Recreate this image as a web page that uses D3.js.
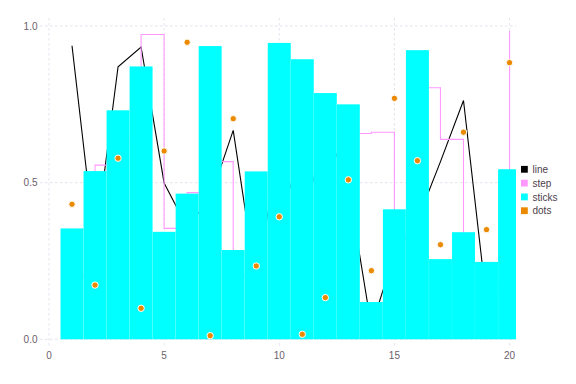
<!DOCTYPE html>
<html>
<head>
<meta charset="utf-8">
<script src="https://cdn.jsdelivr.net/npm/d3@7"></script>
<style>
  html, body { margin: 0; padding: 0; background: #fff; }
  text { font-family: "Liberation Sans", Arial, Helvetica, sans-serif; }
</style>
</head>
<body>
<svg id="chart" width="576" height="384"></svg>
<script>
const xs = d3.range(1, 21);
const lineVals  = [0.937, 0.30, 0.870, 0.933, 0.499, 0.358, 0.45, 0.667, 0.18, 0.62,
                   0.35, 0.68, 0.49, 0.04, 0.27, 0.38, 0.567, 0.762, 0.12, 0.22];
const stepVals  = [0.20, 0.556, 0.64, 0.973, 0.354, 0.468, 0.567, 0.20, 0.45, 0.60,
                   0.55, 0.50, 0.657, 0.661, 0.10, 0.803, 0.638, 0.20, 0.15, 0.984];
const stickVals = [0.354, 0.537, 0.731, 0.871, 0.343, 0.465, 0.936, 0.285, 0.536, 0.946,
                   0.894, 0.786, 0.750, 0.119, 0.415, 0.923, 0.256, 0.342, 0.247, 0.543];
const dotVals   = [0.431, 0.173, 0.578, 0.099, 0.601, 0.948, 0.0115, 0.704, 0.234, 0.391,
                   0.016, 0.133, 0.509, 0.219, 0.769, 0.570, 0.302, 0.661, 0.350, 0.883];
const xTicks = [0, 5, 10, 15, 20];
const yTicks = [0.0, 0.5, 1.0];
const legendLabels = ["line", "step", "sticks", "dots"];
const colors = {line: "#000000", step: "#FF99FF", sticks: "#00FFFF", dots: "#EB8A00"};

const svg = d3.select("#chart");
svg.append("rect").attr("width", 576).attr("height", 384).attr("fill", "#fff");

const x = d3.scaleLinear().domain([-0.39, 20.28]).range([40, 516]);
const y = d3.scaleLinear().domain([-0.0214, 1.0255]).range([346, 18]);

svg.append("clipPath").attr("id", "clip")
  .append("rect").attr("x", 40).attr("y", 18).attr("width", 476).attr("height", 328);

// grid
const grid = svg.append("g");
grid.selectAll(".vg").data(xTicks).join("line")
  .attr("x1", d => x(d)).attr("x2", d => x(d)).attr("y1", 18).attr("y2", 346)
  .attr("stroke", "#D0D0E0").attr("stroke-width", 0.6).attr("stroke-dasharray", "2.5,2.5");
grid.selectAll(".hg").data(yTicks).join("line")
  .attr("x1", 40).attr("x2", 516).attr("y1", d => y(d)).attr("y2", d => y(d))
  .attr("stroke", "#D0D0E0").attr("stroke-width", 0.6).attr("stroke-dasharray", "2.5,2.5");

const plot = svg.append("g").attr("clip-path", "url(#clip)");

// line
plot.append("path")
  .datum(xs.map((d, i) => [d, lineVals[i]]))
  .attr("fill", "none").attr("stroke", colors.line).attr("stroke-width", 1.1)
  .attr("d", d3.line().x(d => x(d[0])).y(d => y(d[1])));

// step (horizontal then vertical)
plot.append("path")
  .datum(xs.map((d, i) => [d, stepVals[i]]))
  .attr("fill", "none").attr("stroke", colors.step).attr("stroke-width", 1.1)
  .attr("d", d3.line().curve(d3.curveStepAfter).x(d => x(d[0])).y(d => y(d[1])));

// sticks (bars)
plot.selectAll(".bar").data(xs).join("rect")
  .attr("x", d => x(d - 0.5))
  .attr("width", d => x(d + 0.5) - x(d - 0.5))
  .attr("y", (d, i) => y(stickVals[i]))
  .attr("height", (d, i) => y(0) - y(stickVals[i]))
  .attr("fill", colors.sticks)
  .attr("stroke", "#ffffff").attr("stroke-opacity", 0.2).attr("stroke-width", 0.3);

// dots
plot.selectAll(".dot").data(xs).join("circle")
  .attr("cx", d => x(d)).attr("cy", (d, i) => y(dotVals[i]))
  .attr("r", 3.2)
  .attr("fill", colors.dots).attr("stroke", "#fff").attr("stroke-width", 1);

// axes labels
const tcol = "#6C606B";
svg.selectAll(".xt").data(xTicks).join("text")
  .attr("x", d => x(d)).attr("y", 358.5)
  .attr("text-anchor", "middle").attr("font-size", 10).attr("fill", tcol)
  .text(d => d3.format("d")(d));
svg.selectAll(".yt").data(yTicks).join("text")
  .attr("x", 37.5).attr("y", d => y(d) + 3.6)
  .attr("text-anchor", "end").attr("font-size", 10).attr("fill", tcol)
  .text(d => d3.format(".1f")(d));

// legend
const lg = svg.append("g");
const keys = ["line", "step", "sticks", "dots"];
legendLabels.forEach((lab, i) => {
  const cy = 169.3 + i * 13.8;
  lg.append("rect").attr("x", 521).attr("y", cy - 3.4).attr("width", 6.8).attr("height", 6.8)
    .attr("fill", colors[keys[i]]);
  lg.append("text").attr("x", 532.5).attr("y", cy + 3.6)
    .attr("font-size", 10).attr("fill", "#4C404B").text(lab);
});
</script>
</body>
</html>
